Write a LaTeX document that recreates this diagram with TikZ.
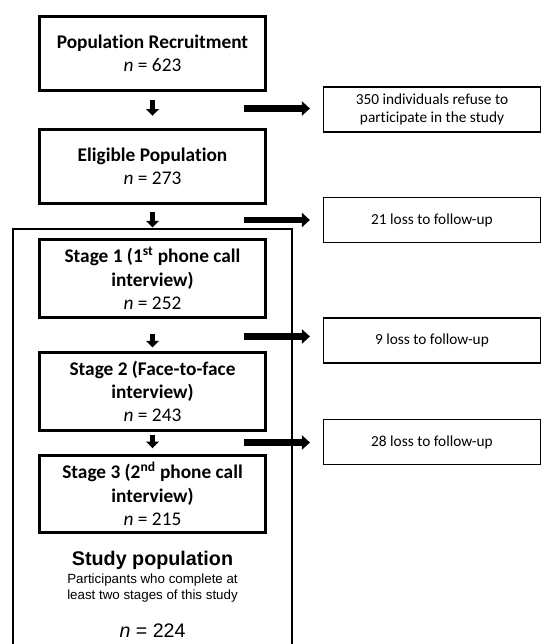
\documentclass[tikz,border=0pt]{standalone}
\usepackage{fontspec}
\setmainfont{Carlito}[Ligatures=CommonOff]
\newfontfamily\arialfont{Liberation Sans}
\usetikzlibrary{arrows.meta}

\tikzset{
	stagebox/.style={draw, line width=2.1pt, minimum width=170pt, minimum height=56pt, inner sep=2pt, align=center, font=\fontsize{14.5}{17.5}\selectfont},
	lossbox/.style={draw, line width=1.1pt, minimum width=162.5pt, minimum height=34pt, inner sep=2pt, align=center, font=\fontsize{11.5}{14}\selectfont},
	downarrow/.style={line width=3.6pt, -{Triangle[length=5pt, width=9.5pt]}},
	sidearrow/.style={line width=5pt, -{Triangle[length=6pt, width=10.5pt]}},
	frame/.style={line width=1.6pt},
	studytext/.style={anchor=base, align=center}
}

\begin{document}
\begin{tikzpicture}[x=0.75pt, y=-0.75pt]
			\useasboundingbox (0,0) rectangle (542,644);
			
			% Define boxes of the main flow (left side)
			\node[stagebox] (pop) at (152.5,53.5) {\textbf{Population Recruitment}\\\textit{n} = 623};
			\node[stagebox] (elig) at (152.5,166.5) {\textbf{Eligible Population}\\\textit{n} = 273};
			\node[stagebox, minimum height=58pt] (st1) at (152.5,278.5) {\textbf{Stage 1 (1\textsuperscript{st} phone call}\\\textbf{interview)}\\\textit{n} = 252};
			\node[stagebox, minimum height=58pt] (st2) at (152.5,391.5) {\textbf{Stage 2 (Face-to-face}\\\textbf{interview)}\\\textit{n} = 243};
			\node[stagebox, minimum height=57.5pt] (st3) at (152.5,494) {\textbf{Stage 3 (2\textsuperscript{nd} phone call}\\\textbf{interview)}\\\textit{n} = 215};
			
			% Define boxes for the losses (right side)
			\foreach \i/\y/\t in {1/109.5/{350 individuals refuse to\\participate in the study}, 2/220/{21 loss to follow-up}, 3/340.5/{9 loss to follow-up}, 4/442/{28 loss to follow-up}}
			\node[lossbox] (L\i) at (432,\y) {\t};
			
			% Frame round the study population
			\draw[frame] (13,644) |- (292,229) -- (292,644);
			\node[studytext, font=\arialfont\fontsize{14.8}{17}\selectfont\bfseries] (studytitle) at (152.5,565) {Study population};
			\node[studytext, font=\arialfont\fontsize{10}{12}\selectfont, anchor=center] (studynote) at (152.5,588) {Participants who complete at\\least two stages of this study};
			\node[studytext, font=\arialfont\fontsize{14.7}{17}\selectfont] (studyn) at (152.5,637) {\textit{n} = 224};
			
			% Draw arrows between the boxes
			\foreach \a/\b/\s/\e in {pop/elig/6pt/9pt, elig/st1/5.25pt/8.25pt, st1/st2/11.25pt/3pt, st2/st3/2.25pt/4.5pt}
			\draw[downarrow, shorten <=\s, shorten >=\e] (\a) -- (\b);
			
			% Draw arrows to the losses
			\foreach \i/\y in {1/108.5, 2/220, 3/336.5, 4/442.5}
			{
				\coordinate (H\i) at (244,\y);
				\draw[sidearrow, shorten >=9.75pt] (H\i) -- (H\i -| L\i.west);
			}
		\end{tikzpicture}
\end{document}
